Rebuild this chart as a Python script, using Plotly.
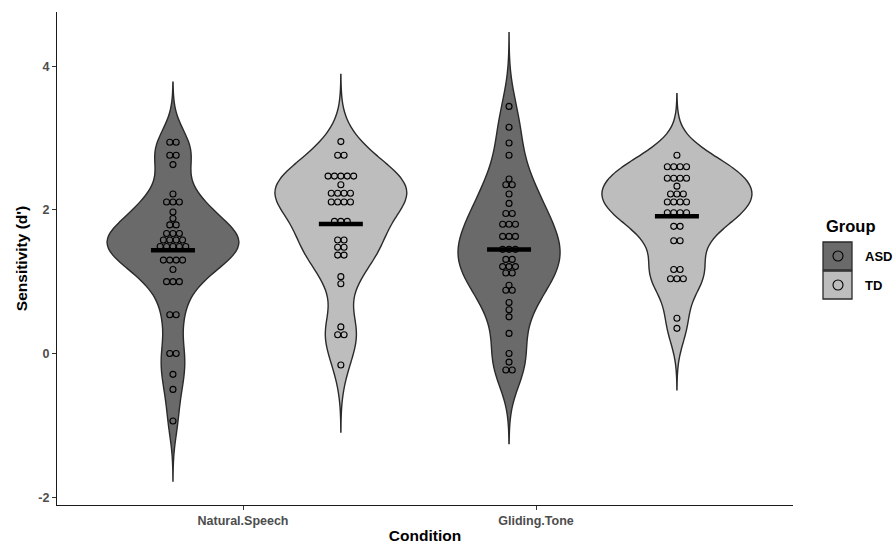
import numpy as np
import plotly.graph_objects as go

# ---------------- data ----------------
conditions = ["Natural.Speech", "Gliding.Tone"]
groups = ["ASD", "TD"]

ns_asd = [2.94, 2.94, 2.76, 2.76, 2.63, 2.22, 2.11, 2.11, 2.11, 1.97, 1.88,
          1.79, 1.79, 1.67, 1.67, 1.67, 1.58, 1.58, 1.58, 1.58,
          1.49, 1.49, 1.49, 1.49, 1.49, 1.30, 1.30, 1.30, 1.30, 1.17,
          1.00, 1.00, 1.00, 0.54, 0.54, 0.00, 0.00, -0.29, -0.50, -0.94]
ns_td = [2.95, 2.76, 2.76, 2.47, 2.47, 2.47, 2.47, 2.47, 2.35,
         2.23, 2.23, 2.23, 2.23, 2.11, 2.11, 2.11, 2.11, 1.84, 1.84, 1.84,
         1.58, 1.58, 1.48, 1.48, 1.37, 1.37, 1.07, 0.97, 0.37, 0.26, 0.26, -0.16]
gt_asd = [3.44, 3.15, 2.93, 2.76, 2.43, 2.35, 2.35, 2.22, 2.09, 1.95, 1.95,
          1.80, 1.80, 1.80, 1.63, 1.63, 1.63, 1.45, 1.45, 1.45, 1.31, 1.31,
          1.21, 1.21, 1.21, 1.12, 1.12, 0.95, 0.88, 0.88, 0.71, 0.61, 0.51,
          0.28, 0.00, -0.12, -0.23, -0.23]
gt_td = [2.76, 2.60, 2.60, 2.60, 2.60, 2.44, 2.44, 2.44, 2.44, 2.33,
         2.22, 2.22, 2.22, 2.11, 2.11, 2.11, 2.11, 1.96, 1.96, 1.96, 1.96,
         1.77, 1.77, 1.57, 1.57, 1.17, 1.17, 1.04, 1.04, 1.04, 0.49, 0.35]

y_ticks = [-2, 0, 2, 4]
y_tick_labels = ["-2", "0", "2", "4"]

series = [
    ("Natural.Speech", "ASD", ns_asd),
    ("Natural.Speech", "TD", ns_td),
    ("Gliding.Tone", "ASD", gt_asd),
    ("Gliding.Tone", "TD", gt_td),
]

# ---------------- layout / style constants ----------------
cond_pos = {"Natural.Speech": 1.0, "Gliding.Tone": 2.0}
offset = {("Natural.Speech", "ASD"): -0.239, ("Natural.Speech", "TD"): 0.334,
          ("Gliding.Tone", "ASD"): -0.092, ("Gliding.Tone", "TD"): 0.481}
vwidth = {("Natural.Speech", "ASD"): 0.45, ("Natural.Speech", "TD"): 0.45,
          ("Gliding.Tone", "ASD"): 0.348, ("Gliding.Tone", "TD"): 0.512}
bw_adjust = {("Natural.Speech", "ASD"): 1.12, ("Natural.Speech", "TD"): 1.0,
             ("Gliding.Tone", "ASD"): 1.0, ("Gliding.Tone", "TD"): 1.0}
fill = {"ASD": "#6a6a6a", "TD": "#bdbdbd"}
outline = "#2a2a2a"
PX_PER_X = 293.0
DOT_STEP = 6.4 / PX_PER_X
BAR_HALF = 22 / PX_PER_X
FONT = "Liberation Sans, Arial, sans-serif"

L, R, T, B = 57, 103, 12, 39
W, H = 896, 544
PW, PH = W - L - R, H - T - B


def nrd0(v):
    v = np.asarray(v, float)
    sd = v.std(ddof=1)
    iqr = np.subtract(*np.percentile(v, [75, 25]))
    lo = min(sd, iqr / 1.34)
    return 0.9 * lo * len(v) ** (-0.2)


fig = go.Figure()

for cond, grp, vals in series:
    key = (cond, grp)
    xc = cond_pos[cond] + offset[key]
    v = np.asarray(vals, float)
    bw = nrd0(v) * bw_adjust[key]
    fig.add_trace(go.Violin(
        x=[xc] * len(v), y=v, bandwidth=bw, spanmode="manual",
        span=[v.min() - 3 * bw, v.max() + 3 * bw],
        width=vwidth[key], scalemode="width",
        fillcolor=fill[grp], line=dict(color=outline, width=1.4),
        points=False, box_visible=False, meanline_visible=False,
        opacity=1, showlegend=False, hoverinfo="skip"))

    # dot stacking (centered rows of equal values)
    xs, ys = [], []
    uniq, counts = np.unique(v, return_counts=True)
    for val, k in zip(uniq, counts):
        for i in range(k):
            xs.append(xc + (i - (k - 1) / 2) * DOT_STEP)
            ys.append(val)
    fig.add_trace(go.Scatter(
        x=xs, y=ys, mode="markers",
        marker=dict(symbol="circle-open", size=6, color="black",
                    line=dict(width=1.1, color="black")),
        showlegend=False, hoverinfo="skip"))

    m = v.mean()
    fig.add_trace(go.Scatter(
        x=[xc - BAR_HALF, xc + BAR_HALF], y=[m, m], mode="lines",
        line=dict(color="black", width=4.5), showlegend=False,
        hoverinfo="skip"))

x_lo = 1 - (243 - L) / PX_PER_X
x_hi = x_lo + PW / PX_PER_X
y_per = 71.83
y_hi = (353.5 - T) / y_per
y_lo = (353.5 - (H - B)) / y_per

fig.update_layout(
    width=W, height=H, margin=dict(l=L, r=R, t=T, b=B, autoexpand=False),
    plot_bgcolor="white", paper_bgcolor="white",
    font=dict(family=FONT),
    xaxis=dict(range=[x_lo, x_hi], tickvals=[cond_pos[c] for c in conditions],
               ticktext=conditions, showline=True, linecolor="#1a1a1a",
               linewidth=1.3, ticks="outside", ticklen=4, tickcolor="#333",
               showgrid=False, zeroline=False, automargin=False,
               tickfont=dict(size=12.5, color="#4d4d4d", weight="bold"),
               title=dict(text="Condition", standoff=2,
                          font=dict(size=15.5, color="black", weight="bold"))),
    yaxis=dict(range=[y_lo, y_hi], tickvals=y_ticks, ticktext=y_tick_labels,
               showline=True, linecolor="#1a1a1a", linewidth=1.3,
               ticks="outside", ticklen=4, tickcolor="#333",
               showgrid=False, zeroline=False, automargin=False,
               tickfont=dict(size=12.5, color="#4d4d4d", weight="bold"),
               title=dict(text="Sensitivity (d')", standoff=6,
                          font=dict(size=15.5, color="black", weight="bold"))),
)


# ---------------- manual legend ----------------
def px(x):
    return (x - L) / PW


def py(y):
    return (H - B - y) / PH


fig.add_annotation(x=px(824), y=py(226), xref="paper", yref="paper",
                   text="Group", showarrow=False, xanchor="left",
                   yanchor="middle",
                   font=dict(size=16.5, color="black", weight="bold"))
for i, g in enumerate(groups):
    y0 = 242 + i * 29
    fig.add_shape(type="rect", xref="paper", yref="paper",
                  x0=px(823), x1=px(852), y0=py(y0), y1=py(y0 + 28),
                  fillcolor=fill[g], line=dict(color=outline, width=1.3))
    cy = y0 + 14
    fig.add_shape(type="circle", xref="paper", yref="paper",
                  x0=px(833), x1=px(843), y0=py(cy - 5), y1=py(cy + 5),
                  line=dict(color="black", width=1.1))
    fig.add_annotation(x=px(863), y=py(cy), xref="paper", yref="paper",
                       text=g, showarrow=False, xanchor="left",
                       yanchor="middle",
                       font=dict(size=13, color="black", weight="bold"))

fig.write_html(
    "out.html",
    config={"displayModeBar": False},
    post_script="document.body.style.margin='0px';"
                "document.body.style.overflow='hidden';")
